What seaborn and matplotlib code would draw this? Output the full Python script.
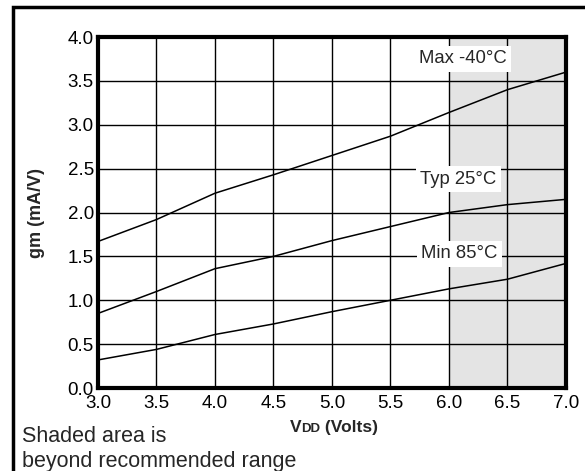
import pandas as pd
import matplotlib.pyplot as plt
import matplotlib.patches as patches
import seaborn as sns

# Valeurs
vdd = [3.0, 3.5, 4.0, 4.5, 5.0, 5.5, 6.0, 6.5, 7.0]
gm_max = [1.67, 1.92, 2.22, 2.43, 2.65, 2.87, 3.14, 3.40, 3.60]
gm_typ = [0.85, 1.10, 1.36, 1.50, 1.68, 1.84, 2.00, 2.09, 2.15]
gm_min = [0.32, 0.44, 0.61, 0.73, 0.87, 1.00, 1.13, 1.24, 1.42]
series = ['Max -40°C', 'Typ 25°C', 'Min 85°C']
x_ticks = [3.0, 3.5, 4.0, 4.5, 5.0, 5.5, 6.0, 6.5, 7.0]
y_ticks = [0.0, 0.5, 1.0, 1.5, 2.0, 2.5, 3.0, 3.5, 4.0]

df = pd.DataFrame({
    'vdd': vdd * 3,
    'gm': gm_max + gm_typ + gm_min,
    'serie': [s for s in series for _ in vdd],
})

sns.set_theme(style='white')
plt.rcParams['font.family'] = ['Liberation Sans', 'DejaVu Sans']

fig = plt.figure(figsize=(5.85, 4.71), dpi=100)
ax = fig.add_axes([0.1675, 0.1762, 0.8, 0.7452])

# cadre exterieur de la figure
fig.patches.append(patches.Rectangle((13 / 585, -0.1), 1.2, 1 - 6.5 / 471 + 0.1,
                                     transform=fig.transFigure, fill=False,
                                     edgecolor='black', linewidth=2.5, zorder=0))

# zone grisee
ax.axvspan(6.0, 7.0, color='#e4e4e4', zorder=0, linewidth=0)

sns.lineplot(data=df, x='vdd', y='gm', hue='serie', palette=['black'] * 3,
             linewidth=1.1, legend=False, ax=ax, zorder=3)

ax.set_xlim(3.0, 7.0)
ax.set_ylim(0.0, 4.0)
ax.set_xticks(x_ticks)
ax.set_yticks(y_ticks)
ax.set_xticklabels([f'{t:.1f}' for t in x_ticks])
ax.set_yticklabels([f'{t:.1f}' for t in y_ticks])
ax.tick_params(axis='both', labelsize=13.5, length=0, colors='black')
ax.tick_params(axis='x', pad=5)
ax.tick_params(axis='y', pad=3)
ax.grid(True, color='black', linewidth=1.0, zorder=1)
ax.set_axisbelow(True)
for sp in ax.spines.values():
    sp.set_linewidth(3)
    sp.set_color('black')

# titre de l'axe x en petites capitales : V + DD (Volts)
ax.set_xlabel('')
t_v = ax.text(0.41, -0.125, 'V', transform=ax.transAxes, fontsize=12.5,
              fontweight='bold', va='baseline', ha='left')
t_dd = ax.annotate('DD', xy=(1, 0), xycoords=t_v, fontsize=9.5,
                   fontweight='bold', va='bottom', ha='left')
ax.annotate(' (Volts)', xy=(1, 0), xycoords=t_dd, fontsize=12.5,
            fontweight='bold', va='bottom', ha='left')
ax.set_ylabel('gm (mA/V)', fontsize=13, fontweight='bold', labelpad=16)

# etiquettes des courbes
box = dict(facecolor='white', edgecolor='none', pad=3)
ax.text(6.12, 3.75, series[0], fontsize=13.3, va='center', ha='center', bbox=box, zorder=4)
ax.text(6.08, 2.38, series[1], fontsize=13.3, va='center', ha='center', bbox=box, zorder=4)
ax.text(6.09, 1.53, series[2], fontsize=13.3, va='center', ha='center', bbox=box, zorder=4)

fig.text(22 / 585, 1 - 437 / 471, 'Shaded area is', fontsize=15.5, va='center')
fig.text(22 / 585, 1 - 461 / 471, 'beyond recommended range', fontsize=15.5, va='center')

fig.savefig('out.png', dpi=100)
